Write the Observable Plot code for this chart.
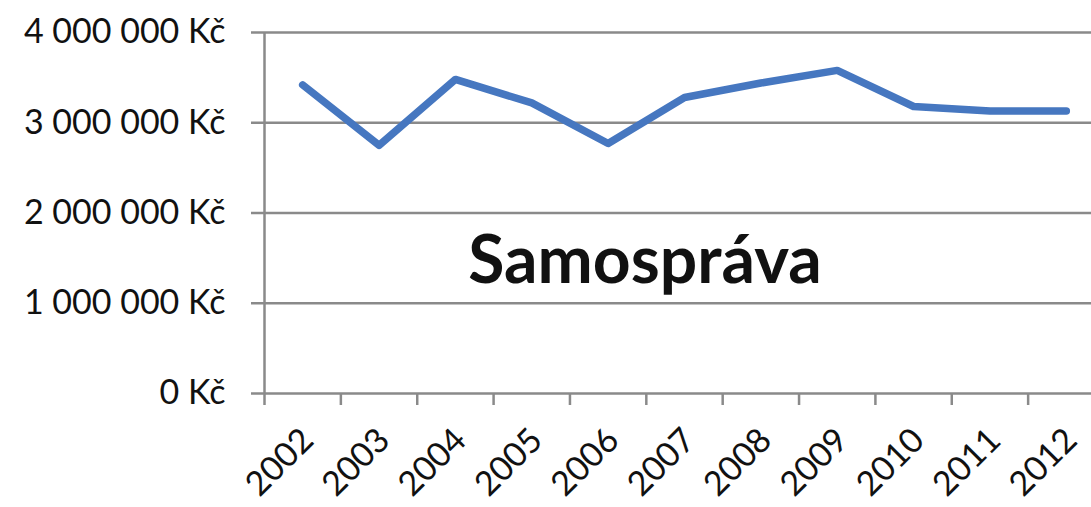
<!DOCTYPE html>
<html><head><meta charset="utf-8">
<script src="https://cdn.jsdelivr.net/npm/d3@7"></script>
<script src="https://cdn.jsdelivr.net/npm/@observablehq/plot@0.6"></script>
<style>
html,body{margin:0;padding:0;background:#fff;overflow:hidden}
</style></head><body><div id="chart"></div>
<script>
const years = [2002, 2003, 2004, 2005, 2006, 2007, 2008, 2009, 2010, 2011, 2012];
const values = [3420000, 2750000, 3480000, 3220000, 2770000, 3280000, 3440000, 3580000, 3180000, 3130000, 3130000];
const yTicks = [0, 1000000, 2000000, 3000000, 4000000];
const yTickLabels = ["0 Kč", "1 000 000 Kč", "2 000 000 Kč", "3 000 000 Kč", "4 000 000 Kč"];
const xTickLabels = ["2002", "2003", "2004", "2005", "2006", "2007", "2008", "2009", "2010", "2011", "2012"];
const boundaries = [2001.5, 2002.5, 2003.5, 2004.5, 2005.5, 2006.5, 2007.5, 2008.5, 2009.5, 2010.5, 2011.5];
const title = "Samospráva";

const data = years.map((year, i) => ({year, value: values[i]}));
const grid = "#8a8a8a";

const chart = Plot.plot({
  width: 1091, height: 507,
  marginLeft: 264, marginRight: 0, marginTop: 32, marginBottom: 114,
  style: {fontFamily: "Lato, 'Open Sans', sans-serif", fontSize: "34px", color: "#111", background: "#fff"},
  x: {type: "linear", domain: [2001.5, 2012.5], range: [264, 1104]},
  y: {domain: [0, 4000000]},
  marks: [
    Plot.ruleY(yTicks, {stroke: grid, strokeWidth: 2.5}),
    Plot.ruleX([boundaries[0]], {stroke: grid, strokeWidth: 2.5}),
    Plot.axisY(yTicks, {tickFormat: d => yTickLabels[yTicks.indexOf(d)], tickSize: 13, tickPadding: 26, stroke: grid, strokeWidth: 2.5, fontSize: 34, label: null}),
    Plot.axisX(boundaries, {tickFormat: () => "", tickSize: 12, stroke: grid, strokeWidth: 2.5, label: null}),
    Plot.axisX(years, {tickFormat: d => xTickLabels[years.indexOf(d)], tickSize: 0, tickPadding: 41, dx: 5, tickRotate: -45, fontSize: 34, label: null}),
    Plot.line(data, {x: "year", y: "value", stroke: "#4677c0", strokeWidth: 7.5, strokeLinejoin: "round", strokeLinecap: "round"}),
    Plot.text([title], {frameAnchor: "middle", dx: -33, dy: 49, fontSize: 66, fontWeight: "bold", fill: "#111"})
  ]
});
document.getElementById("chart").appendChild(chart);
</script></body></html>
